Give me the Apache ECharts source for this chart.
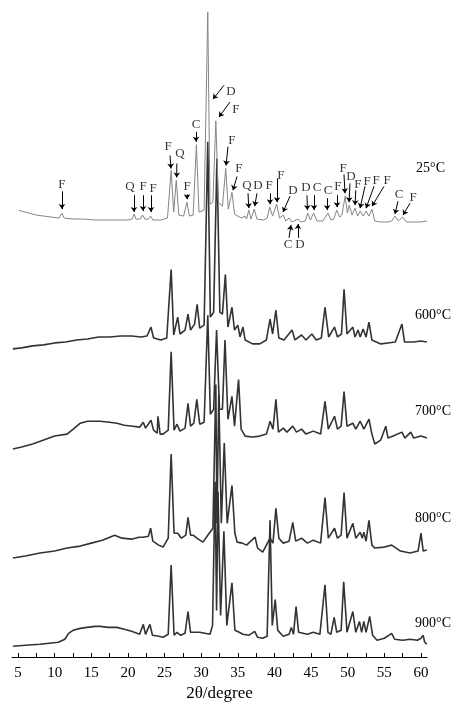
<!DOCTYPE html>
<html><head><meta charset="utf-8">
<script src="https://cdn.jsdelivr.net/npm/echarts@6/dist/echarts.min.js"></script>
<style>html,body{margin:0;padding:0;background:#fff}#c{width:456px;height:707px}</style>
</head><body><div id="c"></div>
<script>
// ---- data (2θ in degrees, intensity in a.u. above each pattern's own zero) ----
const tickValues = [5,7.5,10,12.5,15,17.5,20,22.5,25,27.5,30,32.5,35,37.5,40,42.5,45,47.5,50,52.5,55,57.5,60];
const labelValues = [5,10,15,20,25,30,35,40,45,50,55,60];
const temps = ['25°C','600°C','700°C','800°C','900°C'];
const offsets = [437, 308, 205, 95, 7];

const xrd25 = [[5.1,14],[5.5,13],[6.5,11],[7.5,9],[8.5,8],[9.5,7],[10.6,6],[11.0,11],[11.3,6],[12.5,5],[14,5],[15.5,4],[17,4],[18.5,4],[20,4],[20.6,5],[20.85,10],[21.1,5],[21.7,5],[22.0,9],[22.3,5],[22.8,5],[23.1,8],[23.4,4],[24.5,4],[25.4,6],[25.9,54],[26.25,12],[26.6,44],[26.95,9],[27.6,8],[28.05,22],[28.4,8],[28.9,9],[29.35,80],[29.7,12],[30.4,14],[30.9,214],[31.2,20],[31.6,22],[32.0,104],[32.35,22],[32.9,18],[33.35,56],[33.7,15],[34.2,32],[34.55,10],[35.0,8],[35.5,6],[36.0,8],[36.2,5],[36.5,14],[36.8,5],[37.25,15],[37.6,5],[38.5,4],[39.0,6],[39.35,17],[39.75,8],[40.3,20],[40.7,6],[41.2,9],[41.55,3],[42.0,6],[42.4,2],[43.2,5],[43.6,2],[44.2,3],[44.55,11],[44.9,4],[45.35,11],[45.8,3],[46.6,3],[47.3,11],[47.7,4],[48.1,5],[48.5,14],[48.9,7],[49.2,9],[49.65,28],[49.95,11],[50.2,19],[50.6,9],[51.0,16],[51.35,8],[51.7,13],[52.1,8],[52.5,13],[52.9,8],[53.3,15],[53.7,3],[54.5,2],[55.5,2],[56.0,3],[56.45,8],[56.9,3],[57.5,7],[58.0,2],[59,2],[60,2],[60.8,3]];

const xrd600 = [[4.3,3],[5.5,4],[7,6],[8.5,7],[10,9],[11.5,10],[13,12],[14.5,13],[16,15],[17.5,15],[19,16],[20.5,16],[21.8,15],[22.6,16],[23.15,25],[23.5,14],[24.5,12],[25.3,14],[25.9,83],[26.25,17],[26.8,35],[27.1,18],[27.8,22],[28.2,38],[28.55,22],[29.1,28],[29.45,48],[29.8,24],[30.4,27],[30.9,212],[31.25,35],[31.7,40],[32.15,195],[32.55,40],[32.9,38],[33.3,78],[33.65,25],[34.2,45],[34.55,22],[35.0,27],[35.3,15],[35.7,25],[36.0,12],[37,8],[38,8],[38.9,12],[39.4,33],[39.75,18],[40.2,42],[40.6,14],[41.3,12],[42.4,22],[42.8,12],[43.7,17],[44.3,12],[45.1,18],[45.7,12],[46.4,14],[46.9,45],[47.4,15],[48.2,25],[48.6,15],[49.15,18],[49.5,63],[49.9,18],[50.7,25],[51.0,15],[51.4,22],[51.7,15],[52.1,23],[52.5,15],[52.9,30],[53.3,12],[54.5,8],[55.5,9],[56.5,10],[57.4,28],[57.75,10],[59,10],[60,11],[60.8,10]];

const xrd700 = [[4.3,5],[5.5,7],[7,10],[8.5,14],[10,18],[11.7,20],[12.7,26],[13.5,31],[14.5,33],[16.2,33],[17.5,32],[18.5,31],[19.5,29],[20.7,28],[21.6,27],[22.1,32],[22.4,26],[23.15,34],[23.5,24],[24.0,21],[24.1,38],[24.4,20],[24.8,20],[25.5,24],[25.9,103],[26.3,24],[26.7,30],[27.1,23],[27.8,26],[28.2,51],[28.55,28],[29.0,31],[29.4,55],[29.8,30],[30.4,32],[30.9,140],[31.25,40],[31.7,45],[32.1,125],[32.5,45],[32.9,45],[33.25,115],[33.65,35],[34.2,58],[34.55,28],[35.1,75],[35.45,25],[36.0,18],[37,17],[38,18],[38.9,20],[39.4,33],[39.8,25],[40.2,55],[40.55,22],[41.2,26],[41.7,22],[42.5,28],[43.0,22],[43.7,25],[44.3,20],[45.3,23],[46.3,20],[46.9,53],[47.35,25],[48.2,38],[48.6,25],[49.1,28],[49.5,63],[49.9,28],[50.7,31],[51.1,25],[51.7,33],[52.2,25],[52.9,35],[53.3,20],[53.7,10],[54.5,14],[55.2,28],[55.5,16],[56.2,18],[57.4,22],[57.8,16],[58.6,22],[59,16],[60,18],[60.8,16]];

const xrd800 = [[4.3,5],[6,7],[8,10],[10,12],[11.7,15],[13.5,17],[15,20],[16.5,23],[18.2,28],[19.2,25],[20.5,24],[21.5,26],[22.1,26],[22.8,27],[23.1,35],[23.4,22],[24.2,18],[24.8,16],[25.5,25],[25.9,110],[26.3,30],[26.8,30],[27.3,25],[27.9,28],[28.2,46],[28.55,28],[28.9,28],[29.6,24],[30.25,21],[30.9,28],[31.6,35],[32.0,180],[32.15,40],[32.4,170],[32.75,40],[33.15,121],[33.55,40],[34.2,78],[34.6,30],[34.9,21],[35.6,20],[36.2,18],[37.35,26],[37.7,15],[38.4,11],[39.4,25],[39.8,20],[40.2,55],[40.6,25],[41.2,20],[42.0,22],[42.5,41],[42.9,22],[43.7,25],[44.5,20],[45.3,23],[46.3,20],[46.9,66],[47.35,25],[48.2,35],[48.6,25],[49.1,28],[49.5,71],[49.9,25],[50.7,40],[51.1,25],[51.7,31],[52.0,25],[52.2,31],[52.5,22],[52.9,43],[53.3,18],[53.7,15],[55.0,16],[56.0,18],[57.2,12],[58.5,10],[59.6,12],[60.0,30],[60.3,12],[60.8,13]];

const xrd900 = [[4.3,4],[6,5],[8,6],[10.5,8],[11.4,11],[11.9,17],[12.5,20],[13.5,22],[14.4,23],[15.5,24],[16.2,24],[17.3,23],[18.5,23],[19.5,21],[20.5,19],[21.6,16],[22.1,26],[22.4,16],[23.0,26],[23.35,15],[24.2,14],[24.8,13],[25.5,16],[25.9,86],[26.3,15],[26.7,18],[27.2,15],[27.8,17],[28.2,39],[28.55,18],[29.2,18],[29.8,18],[30.5,17],[31.2,16],[31.55,25],[31.9,170],[32.1,40],[32.3,160],[32.65,35],[33.1,120],[33.5,25],[34.2,68],[34.6,20],[35.2,18],[35.7,16],[36.5,15],[37.3,19],[37.7,13],[38.4,12],[39.0,14],[39.4,131],[39.7,25],[40.1,51],[40.45,20],[41.2,14],[42.0,16],[42.3,23],[42.6,16],[42.95,44],[43.3,18],[44.5,16],[45.3,18],[46.2,16],[46.9,66],[47.3,18],[47.7,16],[48.15,33],[48.5,18],[49.1,20],[49.45,69],[49.9,18],[50.7,39],[51.1,18],[51.6,29],[51.9,18],[52.2,29],[52.5,18],[53.0,34],[53.4,15],[54.0,10],[55.0,12],[56.0,17],[56.4,11],[57.5,10],[58.5,11],[59.5,10],[60.0,12],[60.3,15],[60.5,8],[60.8,6]];

// phase annotations on the 25°C pattern: label, text [2θ, I], arrow from [2θ, I], arrow to [2θ, I]
const annLabel = ['F','Q','F','F','F','Q','F','C','D','F','F','F','Q','D','F','F','D','C','D','D','C','C','F','F','D','F','F','F','F','C','F'];
const annText  = [[11.0,40],[20.29,38],[22.06,38],[23.43,36],[25.47,78],[27.11,71],[28.07,38],[29.29,100],[34.07,134],[34.75,115],[34.2,84],[35.16,56],[36.25,39],[37.76,39],[39.26,39],[40.89,49],[42.53,34],[41.85,-21],[43.49,-21],[44.31,37],[45.81,37],[47.31,34],[48.67,38],[49.36,56],[50.45,48],[51.4,40],[52.63,43],[53.86,44],[55.36,44],[57.0,30],[58.91,27]];
const annFrom  = [[11.0,33],[20.83,29],[22.06,29],[23.15,29],[25.75,69],[26.68,61],[28.07,30],[29.29,93],[33.12,140],[33.93,123],[33.66,78],[34.89,48],[36.39,31],[37.62,31],[39.39,31],[40.35,46],[42.12,28],[41.99,-14],[43.21,-14],[44.44,29],[45.4,29],[47.17,26],[48.54,29],[49.49,50],[50.31,41],[51.1,34],[52.36,38],[53.59,38],[54.95,38],[56.86,23],[58.5,21]];
const annTo    = [[11.0,15],[20.83,12],[22.06,13],[23.15,12],[25.88,56],[26.66,47],[28.07,25],[29.29,83],[31.61,126],[32.43,108],[33.39,59],[34.34,34],[36.5,16],[37.3,18],[39.39,20],[40.35,22],[41.17,12],[42.26,-1],[43.21,0],[44.5,14],[45.4,14],[47.2,14],[48.54,17],[49.63,31],[50.18,22],[51.0,19],[51.68,16],[52.5,16],[53.32,18],[56.45,10],[57.55,9]];

// ---- chart ----
const chart = echarts.init(document.getElementById('c'), null, {renderer: 'canvas'});
const FONT = 'Liberation Serif';
const patterns = [xrd25, xrd600, xrd700, xrd800, xrd900];
const lineColors = ['#858585', '#333333', '#333333', '#333333', '#333333'];
const lineWidths = [1, 1.6, 1.6, 1.6, 1.6];

const series = patterns.map((p, k) => ({
  type: 'line', name: temps[k], showSymbol: false, animation: false, clip: false,
  data: p.map(([x, v]) => [x, v + offsets[k]]),
  lineStyle: {color: lineColors[k], width: lineWidths[k]}, z: 2 + (4 - k)
}));

series.push({
  type: 'lines', coordinateSystem: 'cartesian2d', animation: false, z: 10,
  symbol: ['none', 'arrow'], symbolSize: 5,
  lineStyle: {color: '#000', width: 1, opacity: 1},
  data: annFrom.map((f, i) => ({coords: [[f[0], f[1] + offsets[0]], [annTo[i][0], annTo[i][1] + offsets[0]]]}))
});
series.push({
  type: 'scatter', animation: false, z: 11, symbolSize: 1, itemStyle: {color: 'rgba(0,0,0,0)'},
  data: annText.map((t, i) => ({name: annLabel[i], value: [t[0], t[1] + offsets[0]]})),
  label: {show: true, position: 'inside', formatter: '{b}', color: '#000', fontFamily: FONT, fontSize: 13}
});

const tempPos = [[445,169],[451,316],[451,412],[451,519],[451,624]];
const graphic = temps.map((t, k) => ({
  type: 'text', right: 456 - tempPos[k][0], top: tempPos[k][1] - 8,
  style: {text: t, font: '14px "Liberation Serif"', fill: '#000'}
}));

chart.setOption({
  backgroundColor: '#fff',
  animation: false,
  grid: {left: 12, right: 29, top: 0, bottom: 44, containLabel: false},
  xAxis: {
    type: 'value', min: 4.18, max: 60.82,
    axisLine: {show: true, onZero: false, lineStyle: {color: '#000', width: 1}},
    axisTick: {show: true, inside: true, length: 4, customValues: tickValues, lineStyle: {color: '#000'}},
    axisLabel: {show: true, customValues: labelValues, margin: 8, fontFamily: FONT, fontSize: 15, color: '#000'},
    splitLine: {show: false},
    name: '2θ/degree', nameLocation: 'middle', nameGap: 26,
    nameTextStyle: {fontFamily: FONT, fontSize: 17, color: '#000'}
  },
  yAxis: {type: 'value', min: 0, max: 663, show: false},
  graphic: graphic,
  series: series
});
</script>
</body></html>
